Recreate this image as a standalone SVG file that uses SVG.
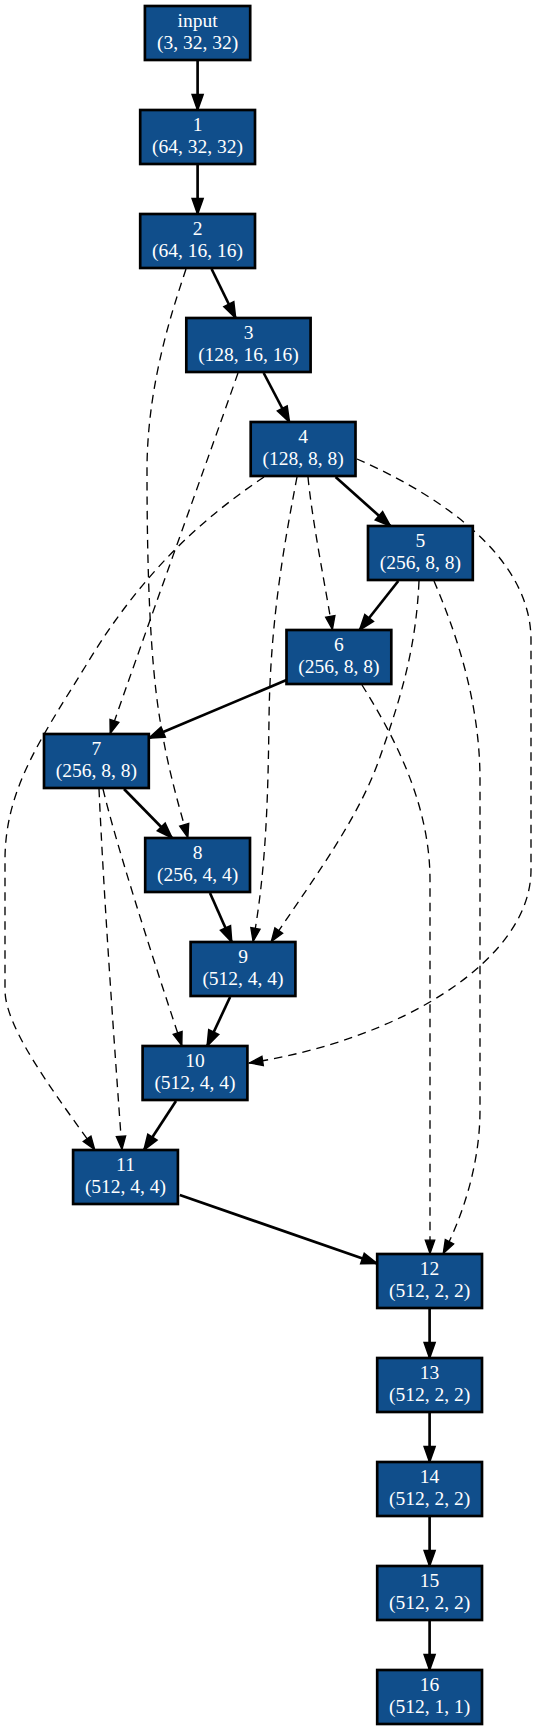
<svg xmlns="http://www.w3.org/2000/svg" width="537" height="1731" viewBox="0 0 537 1731">
<style>
.n rect{fill:#104e8b;stroke:#000;stroke-width:2.67}
.n text{fill:#fff;font-family:"Liberation Serif","Times New Roman",serif;font-size:19.5px;text-anchor:middle}
.s{fill:none;stroke:#000;stroke-width:2.67;marker-end:url(#as)}
.d{fill:none;stroke:#000;stroke-width:1.33;stroke-dasharray:8.5,6;marker-end:url(#ad)}
</style>
<defs>
<marker id="as" markerUnits="userSpaceOnUse" orient="auto" overflow="visible" refX="0" refY="0" markerWidth="1" markerHeight="1">
<path d="M-14.8,-4.7 L-1.5,0 L-14.8,4.7 Z" fill="#000" stroke="#000" stroke-width="2.67"/>
</marker>
<marker id="ad" markerUnits="userSpaceOnUse" orient="auto" overflow="visible" refX="0" refY="0" markerWidth="1" markerHeight="1">
<path d="M-13.8,-4.7 L-0.5,0 L-13.8,4.7 Z" fill="#000" stroke="#000" stroke-width="1.33"/>
</marker>
</defs>
<rect width="537" height="1731" fill="#fff"/>
<g id="edges">
<path class="s" d="M197.6,61 L197.6,110"/>
<path class="s" d="M197.6,165 L197.6,214"/>
<path class="s" d="M211.6,269 L235.6,318"/>
<path class="s" d="M263.7,373 L289.4,422"/>
<path class="s" d="M335.6,477 L390.4,526"/>
<path class="s" d="M398.3,581 L359.6,630"/>
<path class="s" d="M286.5,680 L149,738"/>
<path class="s" d="M124,789 L172,838"/>
<path class="s" d="M210,893 L231.7,942"/>
<path class="s" d="M230.1,997 L207.2,1046"/>
<path class="s" d="M176,1101 L144,1150"/>
<path class="s" d="M179.8,1195 L377,1263.5"/>
<path class="s" d="M429.6,1309 L429.6,1358"/>
<path class="s" d="M429.6,1413 L429.6,1462"/>
<path class="s" d="M429.6,1517 L429.6,1566"/>
<path class="s" d="M429.6,1621 L429.6,1670"/>
<path class="d" d="M186,269 C176,300 147,380 147,470 C147,570 150,660 160,720 C168,770 180,810 188,838"/>
<path class="d" d="M238,373 C220,425 130,675 110,734"/>
<path class="d" d="M308,477 C312,520 326,590 332.5,630"/>
<path class="d" d="M297,477 C285,540 270,620 269,720 C268,800 266,870 253,942"/>
<path class="d" d="M419,581 C416,650 400,700 380,757 C360,815 320,870 271,942"/>
<path class="d" d="M434,581 C455,630 480,700 480,780 L480,1110 C480,1165 462,1218 443,1254"/>
<path class="d" d="M362,685 C390,730 430,800 430,880 L430,1254"/>
<path class="d" d="M357,459 C400,478 531,540 531,640 L531,870 C531,960 400,1040 249,1063"/>
<path class="d" d="M264,477 C200,520 140,575 85,667 C40,740 5,790 5,860 L5,990 C5,1030 60,1100 95,1150"/>
<path class="d" d="M99,789 C104,900 114,1040 122,1150"/>
<path class="d" d="M103,789 C115,840 150,950 182,1046"/>
</g>
<g id="node-input" class="n"><rect x="144.9" y="6" width="105.3" height="54"/><text x="197.6" y="26.7">input</text><text x="197.6" y="48.8">(3, 32, 32)</text></g>
<g id="node-1" class="n"><rect x="140.2" y="110" width="114.8" height="54"/><text x="197.6" y="130.7">1</text><text x="197.6" y="152.8">(64, 32, 32)</text></g>
<g id="node-2" class="n"><rect x="140.2" y="214" width="114.8" height="54"/><text x="197.6" y="234.7">2</text><text x="197.6" y="256.8">(64, 16, 16)</text></g>
<g id="node-3" class="n"><rect x="186.3" y="318" width="124.3" height="54"/><text x="248.5" y="338.7">3</text><text x="248.5" y="360.8">(128, 16, 16)</text></g>
<g id="node-4" class="n"><rect x="250.7" y="422" width="104.8" height="54"/><text x="303.1" y="442.7">4</text><text x="303.1" y="464.8">(128, 8, 8)</text></g>
<g id="node-5" class="n"><rect x="368" y="526" width="104.8" height="54"/><text x="420.4" y="546.7">5</text><text x="420.4" y="568.8">(256, 8, 8)</text></g>
<g id="node-6" class="n"><rect x="286.5" y="630" width="104.8" height="54"/><text x="338.9" y="650.7">6</text><text x="338.9" y="672.8">(256, 8, 8)</text></g>
<g id="node-7" class="n"><rect x="44" y="734" width="104.8" height="54"/><text x="96.4" y="754.7">7</text><text x="96.4" y="776.8">(256, 8, 8)</text></g>
<g id="node-8" class="n"><rect x="145.2" y="838" width="104.8" height="54"/><text x="197.6" y="858.7">8</text><text x="197.6" y="880.8">(256, 4, 4)</text></g>
<g id="node-9" class="n"><rect x="190.6" y="942" width="104.8" height="54"/><text x="243" y="962.7">9</text><text x="243" y="984.8">(512, 4, 4)</text></g>
<g id="node-10" class="n"><rect x="142.6" y="1046" width="104.8" height="54"/><text x="195" y="1066.7">10</text><text x="195" y="1088.8">(512, 4, 4)</text></g>
<g id="node-11" class="n"><rect x="73.1" y="1150" width="104.8" height="54"/><text x="125.5" y="1170.7">11</text><text x="125.5" y="1192.8">(512, 4, 4)</text></g>
<g id="node-12" class="n"><rect x="377.2" y="1254" width="104.8" height="54"/><text x="429.6" y="1274.7">12</text><text x="429.6" y="1296.8">(512, 2, 2)</text></g>
<g id="node-13" class="n"><rect x="377.2" y="1358" width="104.8" height="54"/><text x="429.6" y="1378.7">13</text><text x="429.6" y="1400.8">(512, 2, 2)</text></g>
<g id="node-14" class="n"><rect x="377.2" y="1462" width="104.8" height="54"/><text x="429.6" y="1482.7">14</text><text x="429.6" y="1504.8">(512, 2, 2)</text></g>
<g id="node-15" class="n"><rect x="377.2" y="1566" width="104.8" height="54"/><text x="429.6" y="1586.7">15</text><text x="429.6" y="1608.8">(512, 2, 2)</text></g>
<g id="node-16" class="n"><rect x="377.2" y="1670" width="104.8" height="54"/><text x="429.6" y="1690.7">16</text><text x="429.6" y="1712.8">(512, 1, 1)</text></g>
</svg>
